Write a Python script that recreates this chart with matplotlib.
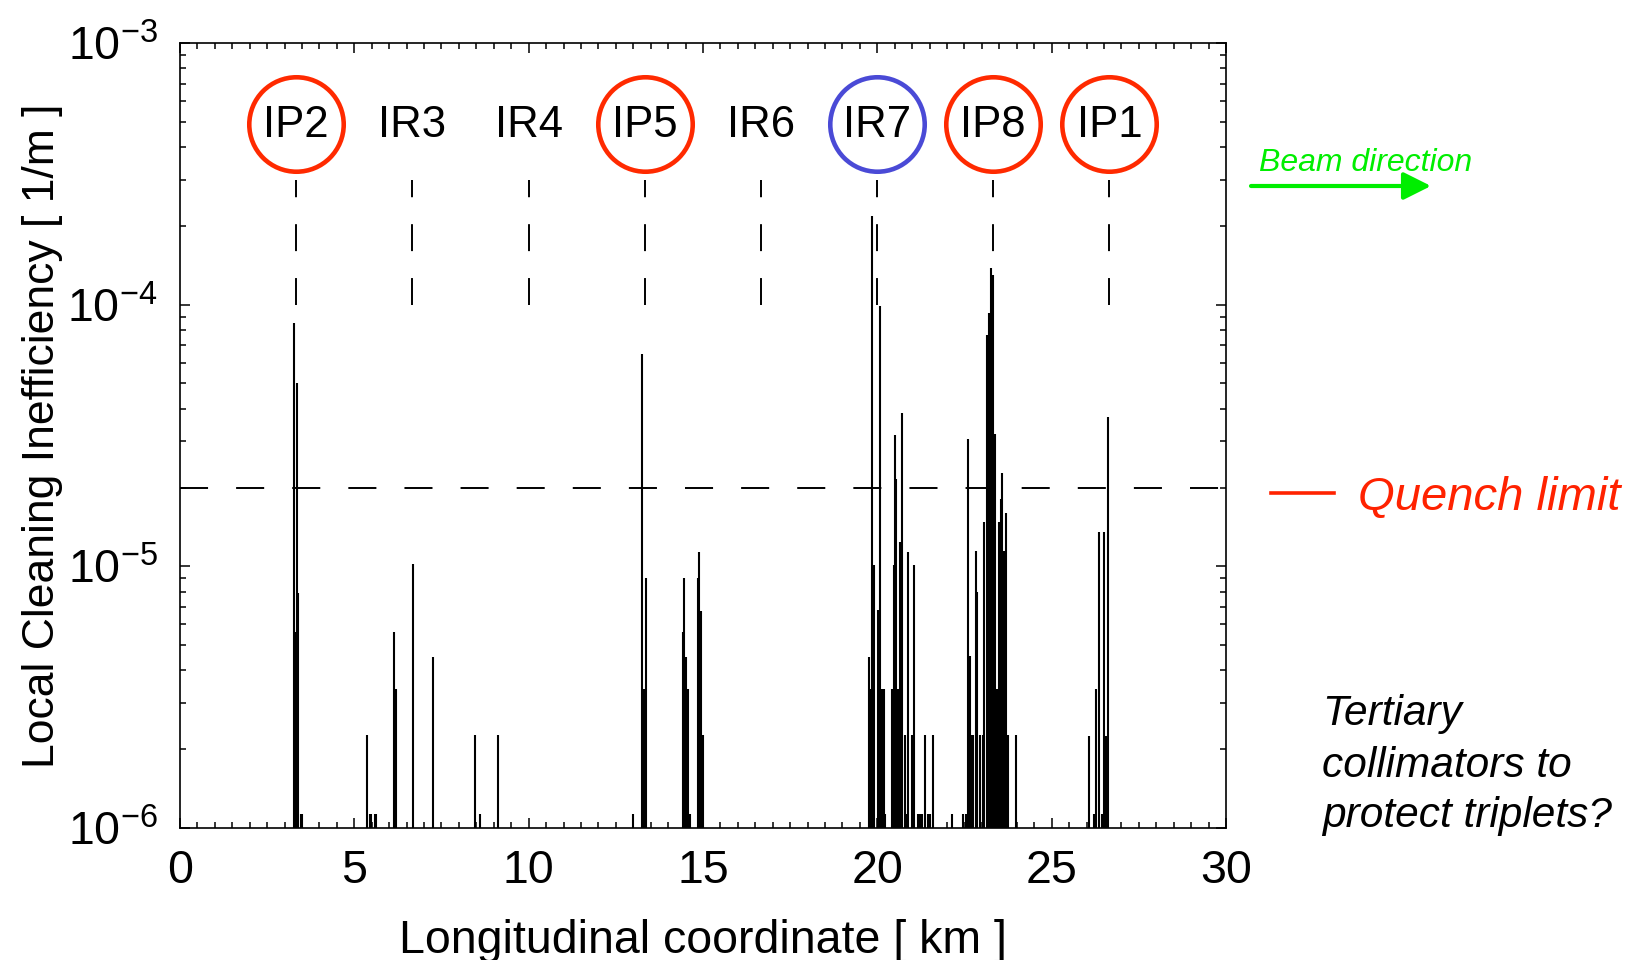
import matplotlib
matplotlib.use("Agg")
import matplotlib.pyplot as plt
from matplotlib.ticker import MultipleLocator, LogLocator, NullFormatter
from matplotlib.patches import FancyArrowPatch

plt.rcParams['font.family'] = ['Liberation Sans', 'DejaVu Sans']
plt.rcParams['mathtext.fontset'] = 'custom'
plt.rcParams['mathtext.rm'] = 'Liberation Sans'
plt.rcParams['mathtext.default'] = 'regular'
plt.rcParams['axes.unicode_minus'] = False
plt.rcParams['lines.scale_dashes'] = False

# loss positions along the ring [km] and local cleaning inefficiency [1/m]
pos_km = [3.28, 3.33, 3.36, 3.38, 3.46, 3.49,
          5.35, 5.44, 5.47, 5.59, 5.63, 6.13, 6.20, 6.68, 7.26, 8.46, 8.59, 9.13,
          12.99, 13.26, 13.32, 13.37, 14.43, 14.45, 14.52, 14.58, 14.63,
          14.85, 14.89, 14.93, 14.97, 15.01,
          19.77, 19.82, 19.86, 19.91, 20.01, 20.08, 20.12, 20.15, 20.18, 20.23,
          20.41, 20.47, 20.51, 20.54, 20.60, 20.66, 20.70, 20.78, 20.83, 20.88,
          21.00, 21.055, 21.16, 21.23, 21.29, 21.38, 21.45, 21.50, 21.59, 22.13,
          22.47, 22.54, 22.60, 22.66, 22.70, 22.75, 22.82, 22.87, 22.94, 23.02,
          23.07, 23.14, 23.21, 23.26, 23.31, 23.33, 23.37, 23.42, 23.50, 23.55,
          23.58, 23.63, 23.70, 23.76, 23.99,
          26.08, 26.21, 26.27, 26.35, 26.43, 26.51, 26.56, 26.62]
loss = [8.5e-5, 5.6e-6, 5.0e-5, 7.9e-6, 1.13e-6, 1.13e-6,
        2.27e-6, 1.13e-6, 1.13e-6, 1.13e-6, 1.13e-6, 5.6e-6, 3.4e-6, 1.02e-5, 4.5e-6, 2.27e-6, 1.13e-6, 2.27e-6,
        1.13e-6, 6.45e-5, 3.4e-6, 9.06e-6, 5.6e-6, 9.06e-6, 4.5e-6, 3.4e-6, 1.13e-6,
        9.06e-6, 1.13e-5, 6.75e-6, 1.13e-6, 2.27e-6,
        4.5e-6, 3.4e-6, 2.19e-4, 1.01e-5, 6.8e-6, 9.9e-5, 3.4e-6, 2.27e-6, 3.4e-6, 1.13e-6,
        3.4e-6, 1.01e-5, 3.17e-5, 2.15e-5, 3.4e-6, 1.24e-5, 3.86e-5, 2.27e-6, 1.13e-6, 1.13e-5,
        2.27e-6, 1.01e-5, 1.13e-6, 1.13e-6, 1.13e-6, 2.27e-6, 1.13e-6, 1.13e-6, 2.27e-6, 1.13e-6,
        1.13e-6, 1.13e-6, 3.07e-5, 4.56e-6, 2.27e-6, 2.27e-6, 1.14e-5, 8.0e-6, 2.27e-6, 2.27e-6,
        1.48e-5, 7.65e-5, 9.3e-5, 1.38e-4, 1.3e-4, 3.4e-6, 3.2e-5, 3.4e-6, 1.48e-5, 1.81e-5,
        2.27e-5, 1.14e-5, 1.6e-5, 2.27e-6, 2.27e-6,
        2.25e-6, 1.13e-6, 3.4e-6, 1.35e-5, 1.13e-6, 1.35e-5, 2.25e-6, 3.72e-5]

# insertion regions
ir_names = ['IP2', 'IR3', 'IR4', 'IP5', 'IR6', 'IR7', 'IP8', 'IP1']
ir_pos = [3.332, 6.664, 9.996, 13.328, 16.66, 19.992, 23.324, 26.656]
ir_ring = ['#ff2a00', None, None, '#ff2a00', None, '#4a4ad6', '#ff2a00', '#ff2a00']
quench = 2e-5

fig = plt.figure(figsize=(16.4, 9.6), dpi=100)
ax = fig.add_axes([180/1640, 1 - 828/960, 1046/1640, 785/960])
ax.set_yscale('log')
ax.set_xlim(0, 30)
ax.set_ylim(1e-6, 1e-3)

ax.vlines(pos_km, 1e-6, loss, color='k', lw=1.5)
ax.axhline(quench, color='k', lw=1.4, dashes=(20.2, 20.2))

for name, x, ring in zip(ir_names, ir_pos, ir_ring):
    ax.plot([x, x], [1e-4, 3e-4], color='k', lw=1.4, dashes=(19.4, 19.4))
    ax.text(x, 4.85e-4, name, ha='center', va='center', fontsize=31.5)
    if ring:
        ax.plot([x], [4.92e-4], 'o', ms=68, mfc='none', mec=ring, mew=3.3)

ax.xaxis.set_major_locator(MultipleLocator(5))
ax.xaxis.set_minor_locator(MultipleLocator(0.5))
ax.yaxis.set_minor_locator(LogLocator(base=10, subs=range(2, 10)))
ax.yaxis.set_minor_formatter(NullFormatter())
ax.tick_params(which='both', direction='in', top=True, right=True, width=1.1, colors='k')
ax.tick_params(which='major', length=7, labelsize=33.5)
ax.tick_params(which='minor', length=4)
ax.tick_params(axis='x', pad=15)
ax.tick_params(axis='y', pad=16)
for s in ax.spines.values():
    s.set_linewidth(1.2)

ax.set_xlabel('Longitudinal coordinate [ km ]', fontsize=33.5)
ax.set_ylabel('Local Cleaning Inefficiency [ 1/m ]', fontsize=32)
ax.xaxis.set_label_coords(0.5, -0.116)
ax.yaxis.set_label_coords(-0.112, 0.5)

# annotations on the right
fig.text(1259/1640, 1 - 171/960, 'Beam direction', color='#00ee00', fontsize=23,
         fontstyle='italic', va='baseline')
fig.add_artist(FancyArrowPatch((1251/1640, 1 - 186/960), (1431/1640, 1 - 186/960),
                               transform=fig.transFigure, color='#00ee00', lw=3,
                               arrowstyle='-|>,head_length=1.4,head_width=0.7',
                               mutation_scale=12, shrinkA=0, shrinkB=0))
fig.add_artist(plt.Line2D([1271/1640, 1334/1640], [1 - 493/960, 1 - 493/960],
                          color='#ff2200', lw=2.6))
fig.text(1358/1640, 1 - 510/960, 'Quench limit', color='#ff2200', fontsize=34,
         fontstyle='italic', va='baseline')
for line, yb in zip(['Tertiary', 'collimators to', 'protect triplets?'], [725, 777, 827]):
    fig.text(1322/1640, 1 - yb/960, line, color='k', fontsize=30.5,
             fontstyle='italic', va='baseline')

fig.savefig('out.png', dpi=100, facecolor='white')
